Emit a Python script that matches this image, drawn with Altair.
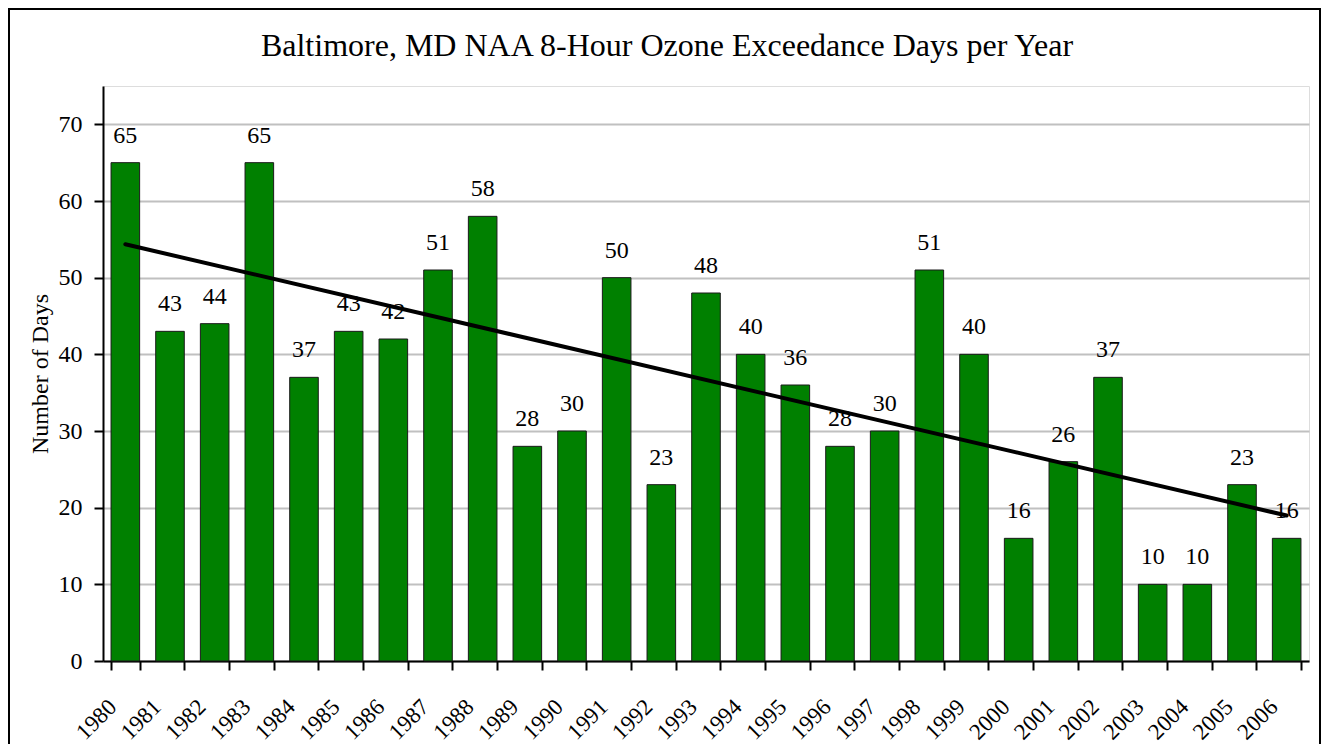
import altair as alt
import pandas as pd

years = list(range(1980, 2007))
days = [65, 43, 44, 65, 37, 43, 42, 51, 58, 28, 30, 50, 23, 48, 40, 36,
        28, 30, 51, 40, 16, 26, 37, 10, 10, 23, 16]
y_ticks = [0, 10, 20, 30, 40, 50, 60, 70]
title_text = "Baltimore, MD NAA 8-Hour Ozone Exceedance Days per Year"
y_title = "Number of Days"

df = pd.DataFrame({"year": years, "days": days})

FONT = "'Times New Roman', 'Liberation Serif', Times, serif"
W, H = 1206, 575

x_enc = alt.X(
    "year:O",
    scale=alt.Scale(paddingInner=0.36, paddingOuter=0.18),
    axis=alt.Axis(
        title=None,
        labelAngle=-45,
        labelAlign="right",
        labelBaseline="middle",
        labelFont=FONT,
        labelFontSize=23,
        labelColor="black",
        labelPadding=33,
        labelOffset=-13,
        tickBand="extent",
        tickSize=9,
        tickColor="black",
        tickWidth=2,
        domainColor="black",
        domainWidth=2,
        grid=False,
    ),
)
y_scale = alt.Scale(domain=[0, 75], nice=False)
y_enc = alt.Y(
    "days:Q",
    scale=y_scale,
    axis=alt.Axis(
        title=y_title,
        values=y_ticks,
        titleFont=FONT,
        titleFontSize=24,
        titleFontWeight="normal",
        titleColor="black",
        titleX=-63,
        titleY=H / 2,
        titleAngle=-90,
        titleAlign="center",
        titleBaseline="middle",
        labelFont=FONT,
        labelFontSize=24,
        labelColor="black",
        labelPadding=12,
        tickSize=9,
        tickColor="black",
        tickWidth=2,
        domainColor="black",
        domainWidth=2,
        grid=True,
        gridColor="#c0c0c0",
        gridWidth=2,
    ),
)

base = alt.Chart(df)

bars = base.mark_bar(color="#008000", stroke="#1a1a1a", strokeWidth=1).encode(
    x=x_enc, y=y_enc
)

labels = base.mark_text(
    baseline="alphabetic", align="center", dy=-20, font=FONT, fontSize=24, color="black"
).encode(x=alt.X("year:O"), y=alt.Y("days:Q"), text=alt.Text("days:Q"))

trend = (
    base.transform_regression("year", "days", method="linear")
    .mark_line(color="black", strokeWidth=4, strokeCap="round")
    .encode(x=alt.X("year:O"), y=alt.Y("days:Q"))
)

frame = (
    alt.Chart(alt.Data(values=[{"k": 1}]))
    .mark_rect(fill="transparent", stroke="black", strokeWidth=2)
    .encode(
        x=alt.value(-94),
        x2=alt.value(W + 11),
        y=alt.value(-77),
        y2=alt.value(H + 120),
    )
)

chart = (
    alt.layer(bars, labels, trend, frame)
    .properties(
        width=W,
        height=H,
        title=alt.TitleParams(
            text=title_text, font=FONT, fontSize=32, fontWeight="normal",
            color="black", offset=0, dy=80, dx=-39, baseline="alphabetic", anchor="middle",
        ),
        autosize=alt.AutoSizeParams(type="none"),
        padding={"left": 95, "top": 78, "right": 12, "bottom": 83},
    )
    .configure_view(stroke="black", strokeWidth=2)
    .configure(background="white")
)

chart.save("out.html", embed_options={"renderer": "svg", "actions": False})
